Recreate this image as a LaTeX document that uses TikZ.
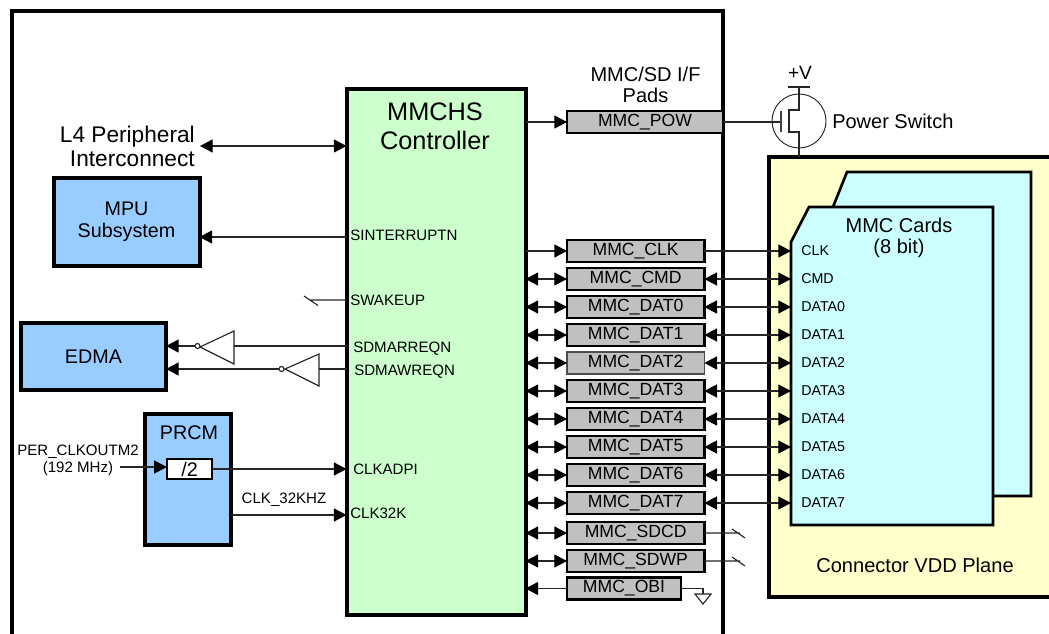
\documentclass[tikz,border=0pt]{standalone}
\usepackage{fontspec}
\setmainfont{Liberation Sans}
\usetikzlibrary{arrows.meta}
\definecolor{ctrlgreen}{HTML}{CCFFCC}
\definecolor{blockblue}{HTML}{99CCFF}
\definecolor{padgray}{HTML}{C0C0C0}
\definecolor{planeyellow}{HTML}{FFFFCC}
\definecolor{cardcyan}{HTML}{CCFFFF}
\newcommand{\fsz}[1]{\fontsize{#1}{#1}\selectfont}
\tikzset{
  x=0.75pt,y=-0.75pt,
  tri/.tip={Triangle[length=9.5pt,width=9.8pt,color=black]},
  wire/.style={line width=0.85pt,draw=black!85},
  uni/.style={wire,-tri},
  bi/.style={wire,tri-tri},
  back/.style={wire,tri-},
  block/.style={draw=black,line width=3pt,outer sep=0pt,fill=blockblue,inner sep=0pt,align=center,anchor=north west,font=\fsz{14.8}},
  pad/.style={draw=black,line width=2pt,outer sep=0pt,fill=padgray,inner sep=0pt,minimum height=16.5pt,anchor=north west,font=\fsz{13.2}},
  pin/.style={inner sep=0pt,anchor=west,font=\fsz{11.3}},
  card/.style={inner sep=0pt,anchor=west,font=\fsz{10.7}},
  cardfill/.style={draw=black,line width=2pt,fill=cardcyan},
}
\newcommand{\padnode}[3]{\node[pad,minimum width=103pt] (#1) at (567,#2) {#3};}
\begin{document}
\begin{tikzpicture}
\useasboundingbox (0,0) rectangle (1049,634);
\clip (0,0) rectangle (1049,634);
% chip
\draw[line width=3pt] (12,660) -- (12,11) -- (723,11) -- (723,660);
% connector plane
\draw[line width=3pt,fill=planeyellow] (1070,157) -- (769,157) -- (769,597) -- (1070,597);
\node[inner sep=0pt,font=\fsz{15.05}] (plane) at (915,565) {Connector VDD Plane};
% cards
\draw[cardfill] (847,172) -- (1031,172) -- (1031,496) -- (833,496) -- (833,207) -- cycle;
\draw[cardfill] (809,207) -- (993,207) -- (993,525) -- (791,525) -- (791,242) -- cycle;
\coordinate (cardedge) at (791,300);
\node[inner sep=0pt,align=center,font=\fsz{15}] (cards) at (899,238) {MMC Cards\\[1pt](8 bit)};
% controller
\node[draw=black,line width=3pt,outer sep=0pt,fill=ctrlgreen,inner sep=0pt,minimum width=134.25pt,minimum height=394.5pt,anchor=north west] (ctrl) at (346.5,89) {};
\node[inner sep=0pt,align=center,font=\fsz{19}] (ctitle) at (435,126) {MMCHS\\[3pt]Controller};
% pad caption
\node[inner sep=0pt,align=center,font=\fsz{15}] (padcap) at (645.5,85) {MMC/SD I/F\\[1pt]Pads};
% pads
\node[pad,minimum width=117pt] (pow) at (567,111) {MMC\_POW};
\padnode{clk}{240}{MMC\_CLK}
\padnode{cmd}{268}{MMC\_CMD}
\padnode{dat0}{296}{MMC\_DAT0}
\padnode{dat1}{324}{MMC\_DAT1}
\node[pad,minimum width=103pt,line width=0.8pt,draw=black!70] (dat2) at (567,352) {MMC\_DAT2};
\padnode{dat3}{380}{MMC\_DAT3}
\padnode{dat4}{408}{MMC\_DAT4}
\padnode{dat5}{436}{MMC\_DAT5}
\padnode{dat6}{464}{MMC\_DAT6}
\padnode{dat7}{492}{MMC\_DAT7}
\padnode{sdcd}{522}{MMC\_SDCD}
\padnode{sdwp}{550}{MMC\_SDWP}
\node[pad,minimum width=85.5pt] (obi) at (567,577.5) {MMC\_OBI};
% controller to pads
\draw[uni] (ctrl.east |- pow.west) -- (pow.west);
\draw[uni] (ctrl.east |- clk.west) -- (clk.west);
\foreach \n in {cmd,dat0,dat1,dat2,dat3,dat4,dat5,dat6,dat7,sdcd,sdwp}{
  \draw[bi] (ctrl.east |- \n.west) -- (\n.west);
}
\draw[back] (ctrl.east |- obi.west) -- (obi.west);
% pads to cards
\draw[uni] (clk.east) -- (clk.east -| cardedge);
\foreach \n in {cmd,dat0,dat1,dat2,dat3,dat4,dat5,dat6,dat7}{
  \draw[bi] (\n.east) -- (\n.east -| cardedge);
}
% card labels
\foreach \n/\t in {clk/CLK,cmd/CMD,dat0/DATA0,dat1/DATA1,dat2/DATA2,dat3/DATA3,dat4/DATA4,dat5/DATA5,dat6/DATA6,dat7/DATA7}{
  \node[card] (c\n) at ([yshift=0.3pt]\n.east -| 801,0) {\t};
}
% no connects
\coordinate (ncA) at (740,533.5);
\coordinate (ncB) at (740,561.5);
\draw[wire] (sdcd.east) -- (sdcd.east -| ncA) (ncA) ++(-8,-4.5) -- ++(13,9);
\draw[wire] (sdwp.east) -- (sdwp.east -| ncB) (ncB) ++(-8,-4.5) -- ++(13,9);
% obi ground
\coordinate (gnd) at (703,594);
\draw[wire] (obi.east) -| (gnd);
\draw[wire] (gnd) ++(-8,0) -- ++(16,0) -- ++(-8,10) -- cycle;
% power switch
\coordinate (gate) at (781,122);
\coordinate (plane top) at (799,157);
\coordinate (vtop) at (799,87);
\draw[line width=0.7pt,draw=black!85] (799,121) circle[radius=27];
\draw[wire] (pow.east) -- (pow.east -| gate);
\draw[line width=1.1pt,draw=black!75] (781,111) -- (781,132);
\draw[wire] (788,87) -- (810,87);
\draw[wire] (vtop) -- (799,110) -- (789,110) -- (789,132) -- (799,132) -- (plane top);
\node[inner sep=0pt,font=\fsz{14.4}] (vlab) at (800,73) {+V};
\node[inner sep=0pt,anchor=west,font=\fsz{15}] (pwsw) at (832,121) {Power Switch};
% left side
\node[inner sep=0pt,align=right,anchor=east,font=\fsz{17}] (l4) at (195,146) {L4 Peripheral\\[1pt]Interconnect};
\coordinate (l4r) at (200,146);
\draw[bi] (l4r) -- (l4r -| ctrl.west);
\node[block,minimum width=109.5pt,minimum height=66pt] (mpu) at (53.5,178) {MPU\\[2pt]Subsystem};
\node[pin] (sint) at (350,235) {SINTERRUPTN};
\draw[back] (mpu.east |- 0,237) -- (ctrl.west |- 0,237);
\node[pin] (swake) at (350,300) {SWAKEUP};
\coordinate (swk) at (310,300);
\draw[wire] (ctrl.west |- swk) -- (swk) ++(-6,-4) -- ++(14,9.5);
\node[block,minimum width=108.75pt,minimum height=50pt] (edma) at (21,323) {EDMA};
\node[pin] (req) at (353,348.5) {SDMARREQN};
\node[pin] (weq) at (354,371.5) {SDMAWREQN};
% inverters
\draw[wire,fill=white] (234,331) -- (234,364) -- (200,347) -- cycle;
\draw[wire,fill=white] (197.5,346) circle[radius=2.5];
\draw[wire,fill=white] (319,354) -- (319,386) -- (285,369) -- cycle;
\draw[wire,fill=white] (281.5,369) circle[radius=2.5];
\draw[wire] (ctrl.west |- 0,346) -- (234,346);
\draw[back] (edma.east |- 0,346) -- (195,346);
\draw[wire] (ctrl.west |- 0,369) -- (319,369);
\draw[back] (edma.east |- 0,369) -- (279,369);
% PRCM
\node[block,minimum width=64.5pt,minimum height=98pt] (prcm) at (145,414) {};
\node[inner sep=0pt,font=\fsz{14.8}] (prcmt) at (189,433) {PRCM};
\node[draw=black,line width=1.5pt,outer sep=0pt,fill=white,inner sep=0pt,minimum width=34pt,minimum height=15pt,font=\fsz{14.8}] (div) at (189.5,469) {/2};
\node[inner sep=0pt,align=center,font=\fsz{11.3}] (per) at (78,460.5) {PER\_CLKOUTM2\\[1.5pt](192 MHz)};
\coordinate (perin) at (120,467);
\draw[uni] (perin) -- (div.west |- perin);
\node[pin] (adpi) at (353,469) {CLKADPI};
\node[pin] (k32) at (350,513) {CLK32K};
\draw[uni] (div.east) -- (div.east -| ctrl.west);
\coordinate (k32y) at (0,515);
\draw[uni] (prcm.east |- k32y) -- (ctrl.west |- k32y);
\node[inner sep=0pt,font=\fsz{11.3}] (k32lab) at (284,500) {CLK\_32KHZ};
\end{tikzpicture}
\end{document}
